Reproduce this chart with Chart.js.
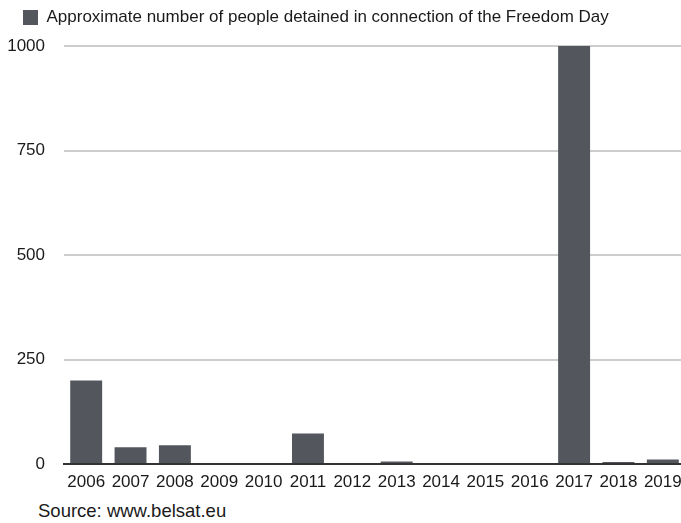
<!DOCTYPE html>
<html>
<head>
<meta charset="utf-8">
<title>Freedom Day detentions</title>
<script src="https://cdn.jsdelivr.net/npm/chart.js@4/dist/chart.umd.min.js"></script>
<style>
  html, body { margin: 0; padding: 0; background: #fff; overflow: hidden; }
  #wrap { position: relative; width: 681px; height: 523px; overflow: hidden; }
  #detainedChart { position: absolute; left: 0; top: 0; }
  #source {
    position: absolute; left: 38px; top: 502px;
    font: 18.5px/18px "Liberation Sans", Arial, sans-serif; color: #1a1a1a;
  }
</style>
</head>
<body>
<div id="wrap">
  <canvas id="detainedChart" width="690" height="494"></canvas>
  <div id="source">Source: www.belsat.eu</div>
</div>
<script>
const years = ['2006', '2007', '2008', '2009', '2010', '2011', '2012', '2013', '2014', '2015', '2016', '2017', '2018', '2019'];
const detained = [200, 40, 45, 0, 0, 73, 0, 6, 0, 0, 0, 1000, 5, 11];
const seriesLabel = 'Approximate number of people detained in connection of the Freedom Day';
const yTicks = [0, 250, 500, 750, 1000];

const fontFamily = '"Liberation Sans", Arial, sans-serif';

// force legend height so the plot starts where the reference does
const legendHeight = {
    id: 'legendHeight',
    beforeInit(chart) {
        const fit = chart.legend.fit;
        chart.legend.fit = function() {
            fit.bind(chart.legend)();
            this.height = 60;
        };
    }
};

function createDetainedChart() {
    const ctx = document.getElementById('detainedChart').getContext('2d');
    new Chart(ctx, {
        type: 'bar',
        data: {
            labels: years,
            datasets: [{
                label: seriesLabel,
                data: detained,
                backgroundColor: '#53565c',
                borderWidth: 0
            }]
        },
        options: {
            responsive: false,
            animation: false,
            layout: { padding: { left: 0, right: 5, top: -14, bottom: 0 } },
            plugins: {
                legend: {
                    position: 'top',
                    align: 'start',
                    labels: {
                        boxWidth: 15,
                        boxHeight: 15,
                        padding: 23,
                        color: '#1a1a1a',
                        font: { family: fontFamily, size: 17 }
                    }
                },
                tooltip: { enabled: false }
            },
            scales: {
                x: {
                    grid: { display: false, drawTicks: false },
                    border: { display: true, color: '#333', width: 2 },
                    ticks: {
                        padding: 8,
                        color: '#1a1a1a',
                        maxRotation: 0,
                        autoSkip: false,
                        font: { family: fontFamily, size: 17 }
                    },
                    afterFit(scale) { scale.height = 30; }
                },
                y: {
                    min: 0,
                    max: 1000,
                    afterBuildTicks(scale) { scale.ticks = yTicks.map(v => ({ value: v })); },
                    grid: {
                        drawTicks: false,
                        lineWidth: 2,
                        color: c => (c.tick && c.tick.value === 0) ? '#333' : '#cdcdcd'
                    },
                    border: { display: false },
                    ticks: {
                        padding: 19,
                        color: '#1a1a1a',
                        font: { family: fontFamily, size: 17 },
                        callback: v => String(v)
                    },
                    afterFit(scale) { scale.width = 64; }
                }
            }
        },
        plugins: [legendHeight]
    });
}

document.addEventListener("DOMContentLoaded", function() {
    createDetainedChart();
});
</script>
</body>
</html>
